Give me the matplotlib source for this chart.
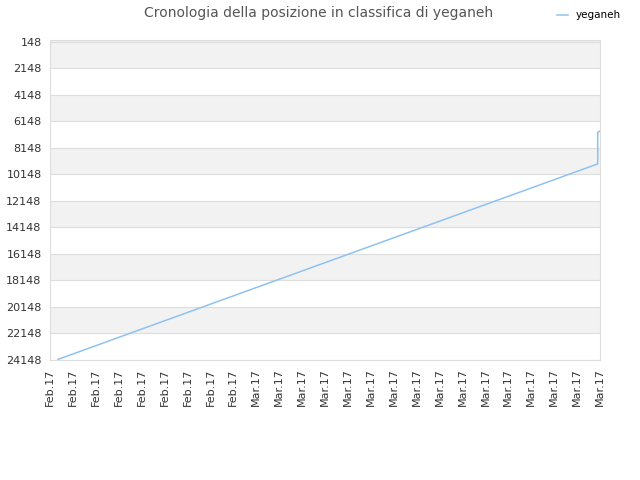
import matplotlib.pyplot as plt
import numpy as np

# x positions (tick index units) and ranking values
pos_x = [0.35, 23.9, 23.9, 24.0]
pos_y = [24100, 9350, 6950, 6880]
tick_labels = ["Feb.17"] * 9 + ["Mar.17"] * 16
y_ticks = list(range(148, 24149, 2000))

fig = plt.figure(figsize=(6.4, 4.8), dpi=100)
ax = fig.add_axes([50 / 640, 120 / 480, 550 / 640, 320 / 480])

# alternating bands
y_top = 0
ax.axhspan(y_top, y_ticks[0], color="#f2f2f2", zorder=0, lw=0)
for k in range(0, len(y_ticks) - 1, 2):
    ax.axhspan(y_ticks[k], y_ticks[k + 1], color="#f2f2f2", zorder=0, lw=0)
for y in y_ticks:
    ax.axhline(y, color="#dddddd", lw=0.8, zorder=1)

ax.plot(pos_x, pos_y, color="#8ec2f2", lw=1.1, zorder=3, label="yeganeh")

ax.set_xlim(0, 24)
ax.set_ylim(24148, y_top)
ax.set_yticks(y_ticks)
ax.set_yticklabels([str(v) for v in y_ticks], fontsize=8, color="#333333")
ax.set_xticks(range(len(tick_labels)))
ax.set_xticklabels(tick_labels, rotation=90, fontsize=8, color="#333333")
ax.tick_params(length=0, pad=6)
for s in ax.spines.values():
    s.set_color("#dddddd")

fig.text(0.497, 0.988, "Cronologia della posizione in classifica di yeganeh",
         ha="center", va="top", fontsize=10, color="#555555")
fig.legend(loc="upper right", bbox_to_anchor=(0.985, 0.998), frameon=False,
           fontsize=7.5, handlelength=1.0)

fig.savefig("out.png", dpi=100)
